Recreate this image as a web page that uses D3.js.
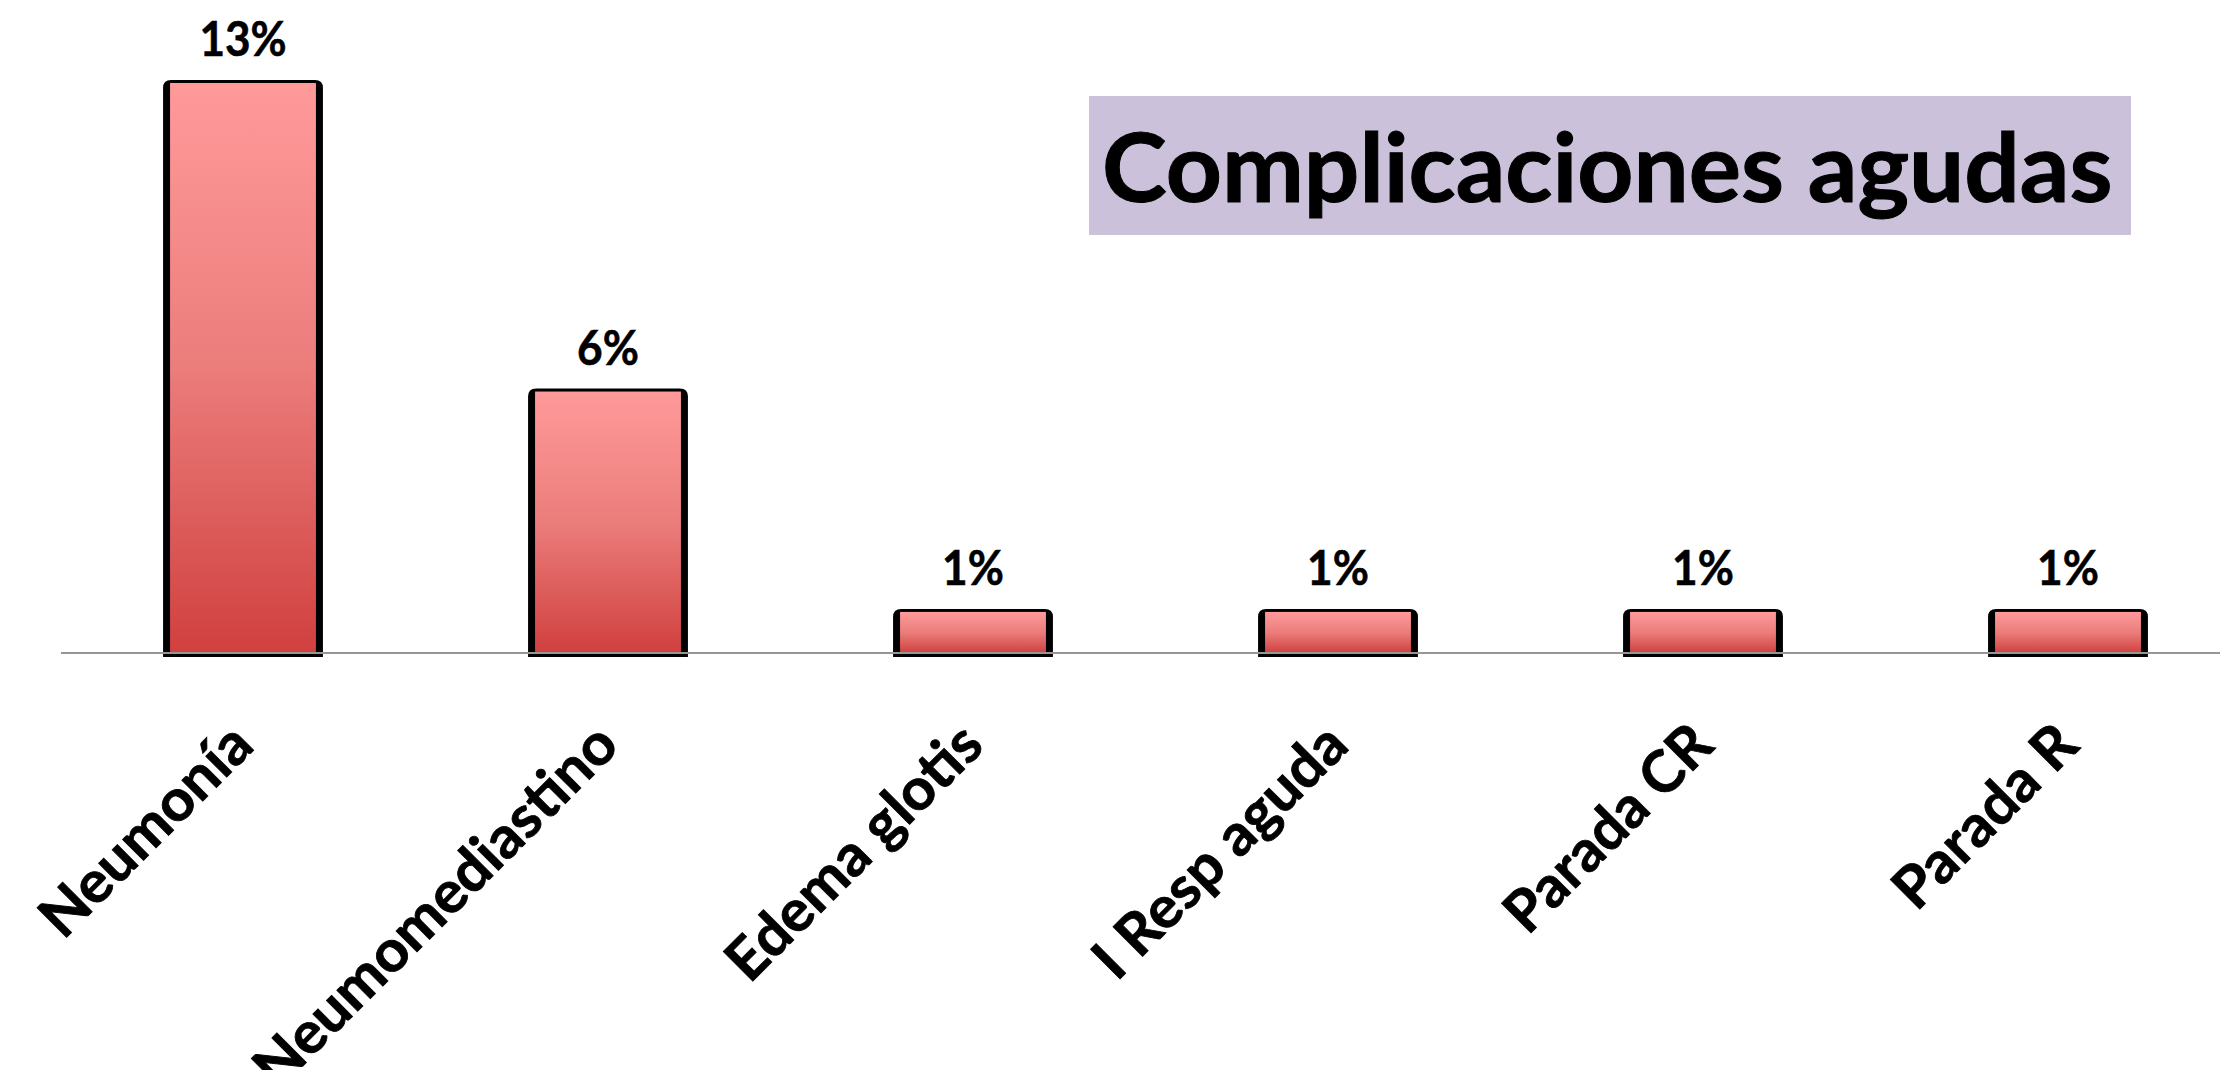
<!DOCTYPE html>
<html>
<head>
<meta charset="utf-8">
<script src="https://cdn.jsdelivr.net/npm/d3@7"></script>
<style>
  html, body { margin: 0; padding: 0; background: #ffffff; }
  svg { display: block; }
</style>
</head>
<body>
<svg id="chart" width="2220" height="1070"></svg>
<script>
// ---- data ----
const categories = ["Neumonía", "Neumomediastino", "Edema glotis", "I Resp aguda", "Parada CR", "Parada R"];
const values = [13, 6, 1, 1, 1, 1];
const valueLabels = ["13%", "6%", "1%", "1%", "1%", "1%"];
const title = "Complicaciones agudas";

// ---- approximate Calibri Bold advance widths (em), used to fit text widths ----
const calibriBold = {' ':0.226,'%':0.729,'0':0.507,'1':0.507,'2':0.507,'3':0.507,'4':0.507,'5':0.507,'6':0.507,'7':0.507,'8':0.507,'9':0.507,
  'C':0.529,'E':0.488,'I':0.267,'N':0.659,'P':0.532,'R':0.563,
  'a':0.494,'c':0.418,'d':0.537,'e':0.503,'g':0.474,'i':0.246,'í':0.246,'l':0.246,'m':0.813,'n':0.537,'o':0.538,'p':0.537,'r':0.355,'s':0.399,'t':0.347,'u':0.537};
function calibriWidth(str, size) {
  let w = 0;
  for (const ch of str) w += (calibriBold[ch] !== undefined ? calibriBold[ch] : 0.5);
  return w * size;
}

const FONT = "Lato, 'Open Sans', 'Liberation Sans', sans-serif";
const svg = d3.select("#chart");

const axisY = 653;
const x = d3.scaleBand()
  .domain(categories)
  .range([60.5, 60.5 + 6 * 365])
  .paddingInner(0.562)
  .paddingOuter(0.281);
const y = d3.scaleLinear().domain([0, 13]).range([axisY, 80]);

// gradient
const defs = svg.append("defs");
const grad = defs.append("linearGradient")
  .attr("id", "barGrad").attr("x1", 0).attr("y1", 0).attr("x2", 0).attr("y2", 1);
grad.append("stop").attr("offset", "0%").attr("stop-color", "#FF9A9A");
grad.append("stop").attr("offset", "50%").attr("stop-color", "#EB7D7B");
grad.append("stop").attr("offset", "100%").attr("stop-color", "#D0403F");

// title box
svg.append("rect")
  .attr("x", 1089).attr("y", 96).attr("width", 2131 - 1089).attr("height", 235 - 96)
  .attr("fill", "#CCC1DA");
svg.append("text")
  .attr("x", 1102).attr("y", 202)
  .attr("font-family", FONT).attr("font-weight", 700).attr("font-size", 95)
  .attr("fill", "#000")
  .attr("stroke", "#000").attr("stroke-width", 1)
  .attr("textLength", calibriWidth(title, 105))
  .attr("lengthAdjust", "spacingAndGlyphs")
  .text(title);

const data = categories.map((c, i) => ({ cat: c, v: values[i], lab: valueLabels[i] }));
const bw = x.bandwidth();
const side = 7, topB = 3, r = 8, below = 4;

const g = svg.append("g");
// black frame (rounded top corners)
g.selectAll("path.frame").data(data).enter().append("path")
  .attr("class", "frame")
  .attr("fill", "#000")
  .attr("d", d => {
    const x0 = x(d.cat), x1 = x0 + bw, y0 = y(d.v), yb = axisY + below;
    return `M${x0},${yb} L${x0},${y0 + r} Q${x0},${y0} ${x0 + r},${y0} L${x1 - r},${y0} Q${x1},${y0} ${x1},${y0 + r} L${x1},${yb} Z`;
  });
// gradient face
g.selectAll("rect.face").data(data).enter().append("rect")
  .attr("class", "face")
  .attr("x", d => x(d.cat) + side)
  .attr("y", d => y(d.v) + topB)
  .attr("width", bw - 2 * side)
  .attr("height", d => axisY - y(d.v) - topB)
  .attr("fill", "url(#barGrad)");

// axis line
svg.append("line")
  .attr("x1", 61).attr("x2", 2220).attr("y1", axisY).attr("y2", axisY)
  .attr("stroke", "#969696").attr("stroke-width", 2);

// value labels
svg.selectAll("text.val").data(data).enter().append("text")
  .attr("class", "val")
  .attr("x", d => x(d.cat) + bw / 2)
  .attr("y", d => y(d.v) - 24)
  .attr("text-anchor", "middle")
  .attr("font-family", FONT).attr("font-weight", 700).attr("font-size", 47)
  .attr("fill", "#000")
  .attr("stroke", "#000").attr("stroke-width", 0.6)
  .attr("textLength", d => calibriWidth(d.lab, 50))
  .attr("lengthAdjust", "spacingAndGlyphs")
  .text(d => d.lab);

// category labels rotated -45
svg.selectAll("text.cat").data(data).enter().append("text")
  .attr("class", "cat")
  .attr("transform", d => `translate(${x(d.cat) + bw / 2 + 13},${748}) rotate(-45)`)
  .attr("text-anchor", "end")
  .attr("font-family", FONT).attr("font-weight", 700).attr("font-size", 58)
  .attr("fill", "#000")
  .attr("stroke", "#000").attr("stroke-width", 0.8)
  .attr("textLength", d => calibriWidth(d.cat, 63))
  .attr("lengthAdjust", "spacingAndGlyphs")
  .text(d => d.cat);
</script>
</body>
</html>
